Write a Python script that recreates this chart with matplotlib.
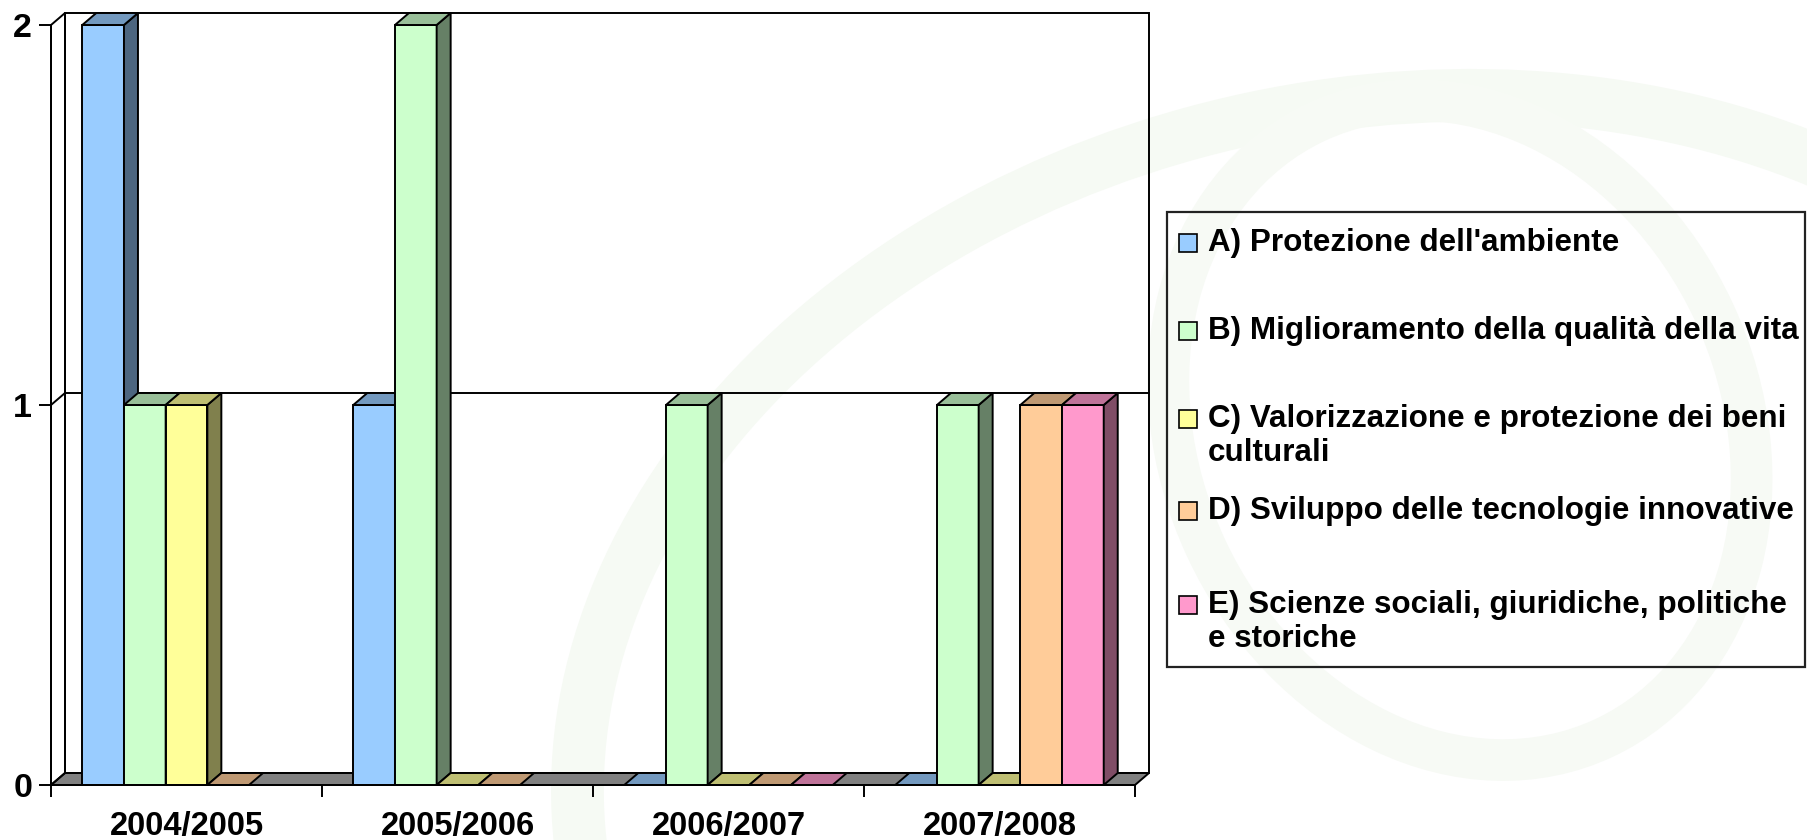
import numpy as np
import matplotlib
matplotlib.use("Agg")
import matplotlib.pyplot as plt
from matplotlib.patches import Polygon, Rectangle, Ellipse

# ---------------- data ----------------
categories = ["2004/2005", "2005/2006", "2006/2007", "2007/2008"]
series_labels = [
    "A) Protezione dell'ambiente",
    "B) Miglioramento della qualità della vita",
    "C) Valorizzazione e protezione dei beni\nculturali",
    "D) Sviluppo delle tecnologie innovative",
    "E) Scienze sociali, giuridiche, politiche\ne storiche",
]
values_A = [2, 1, 0, 0]
values_B = [1, 2, 1, 1]
values_C = [1, 0, 0, 0]
values_D = [0, 0, 0, 1]
values_E = [np.nan, np.nan, 0, 1]
y_ticks = [0, 1, 2]

series_values = [values_A, values_B, values_C, values_D, values_E]
front_colors = ["#99CCFF", "#CCFFCC", "#FFFF99", "#FFCC99", "#FF99CC"]

plt.rcParams['font.family'] = ['Liberation Sans', 'DejaVu Sans']

W, H = 1807, 840
fig = plt.figure(figsize=(W / 100, H / 100), dpi=100)
fig.patch.set_facecolor("white")

# very faint background watermark
bg = fig.add_axes([0, 0, 1, 1], zorder=-10)
bg.set_xlim(0, W)
bg.set_ylim(H, 0)
bg.axis("off")
bg.add_patch(Ellipse((1380, 720), 1620, 1230, angle=-12, fill=False,
                     edgecolor="#f6faf4", lw=38))
bg.add_patch(Ellipse((1460, 430), 560, 680, angle=-25, fill=False,
                     edgecolor="#f7faf5", lw=30))

# front plane of the plot in pixels
x0p, x1p, ytop, ybot = 51, 1135, 25, 785
ax = fig.add_axes([x0p / W, (H - ybot) / H, (x1p - x0p) / W, (ybot - ytop) / H])
ax.set_facecolor("none")
ncat = len(categories)
ymax = max(y_ticks)
ax.set_xlim(0, ncat)
ax.set_ylim(0, ymax)

DX = 14 * ncat / (x1p - x0p)
DY = 12 * ymax / (ybot - ytop)
edge = "black"
lw = 1.4


def shade(c, f):
    r, g, b = matplotlib.colors.to_rgb(c)
    return (r * f, g * f, b * f)


# walls and floor
ax.add_patch(Polygon([(0, 0), (ncat, 0), (ncat + DX, DY), (DX, DY)], closed=True,
                     facecolor="#808080", edgecolor=edge, lw=lw, clip_on=False, zorder=1))
ax.add_patch(Rectangle((DX, DY), ncat, ymax, fill=False, edgecolor=edge, lw=lw,
                       clip_on=False, zorder=1))
ax.add_patch(Polygon([(0, 0), (DX, DY), (DX, ymax + DY), (0, ymax)], closed=True,
                     fill=False, edgecolor=edge, lw=lw, clip_on=False, zorder=1))
for t in y_ticks[1:-1]:
    ax.plot([0, DX, ncat + DX], [t, t + DY, t + DY], color=edge, lw=lw,
            clip_on=False, zorder=1)

# bars
nser = len(series_values)
gap = 1.5
bw = 1.0 / (nser + gap)
for i in range(ncat):
    for j in range(nser):
        v = series_values[j][i]
        if np.isnan(v):
            continue
        xl = i + gap / 2 * bw + j * bw
        fc = front_colors[j]
        if v > 0:
            ax.bar(xl, v, width=bw, align="edge", color=fc, edgecolor=edge,
                   lw=lw, zorder=2, clip_on=False)
            ax.add_patch(Polygon([(xl + bw, 0), (xl + bw + DX, DY), (xl + bw + DX, v + DY),
                                  (xl + bw, v)], closed=True, facecolor=shade(fc, 0.5),
                                 edgecolor=edge, lw=lw, zorder=2, clip_on=False))
        ax.add_patch(Polygon([(xl, v), (xl + bw, v), (xl + bw + DX, v + DY), (xl + DX, v + DY)],
                             closed=True, facecolor=shade(fc, 0.75), edgecolor=edge,
                             lw=lw, zorder=2, clip_on=False))

# axes / ticks
for s in ["top", "right"]:
    ax.spines[s].set_visible(False)
for s in ["left", "bottom"]:
    ax.spines[s].set_linewidth(lw)
    ax.spines[s].set_zorder(3)
ax.set_yticks(y_ticks)
ax.set_yticklabels([str(t) for t in y_ticks], fontsize=24.5, fontweight="bold")
ax.tick_params(axis="y", length=8.6, width=lw, pad=5)
ax.set_xticks(np.arange(ncat + 1))
ax.set_xticklabels([])
ax.tick_params(axis="x", which="major", length=8.6, width=lw)
ax.set_xticks(np.arange(ncat) + 0.5, minor=True)
ax.set_xticklabels(categories, minor=True, fontsize=23.5, fontweight="bold")
ax.tick_params(axis="x", which="minor", length=0, pad=19)

# legend (manual)
lg = fig.add_axes([0, 0, 1, 1], zorder=5)
lg.set_xlim(0, W)
lg.set_ylim(H, 0)
lg.axis("off")
lg.add_patch(Rectangle((1167, 212), 638, 455, fill=False, edgecolor="#222222", lw=1.6))
first_line_y = [243, 331, 419, 511, 605]
line_step = 34
for j, lab in enumerate(series_labels):
    y = first_line_y[j]
    lg.add_patch(Rectangle((1179, y - 9), 18, 18, facecolor=front_colors[j],
                           edgecolor="black", lw=1.2))
    for k, line in enumerate(lab.split("\n")):
        lg.text(1208, y + k * line_step, line, fontsize=22.6, fontweight="bold",
                va="center", ha="left")

fig.savefig("out.png", dpi=100)
